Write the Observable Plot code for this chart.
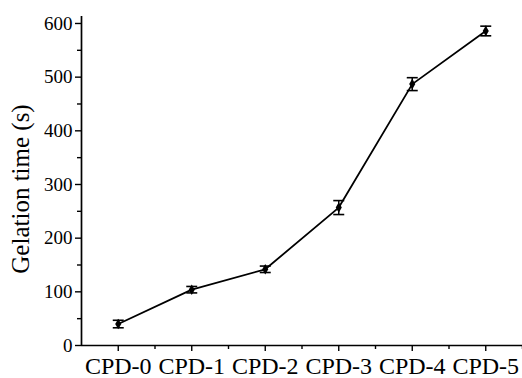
<!DOCTYPE html>
<html>
<head>
<meta charset="utf-8">
<script src="https://cdn.jsdelivr.net/npm/d3@7"></script>
<script src="https://cdn.jsdelivr.net/npm/@observablehq/plot@0.6"></script>
<style>
  html, body { margin: 0; padding: 0; background: #fff; }
  svg { display: block; }
</style>
</head>
<body>
<div id="chart"></div>
<script>
const categories = ["CPD-0", "CPD-1", "CPD-2", "CPD-3", "CPD-4", "CPD-5"];
const gelationTime = [40, 104, 142, 257, 487, 586];
const errors = [7, 6, 6, 13, 12, 9];
const yTicks = [0, 100, 200, 300, 400, 500, 600];
const yMinorTicks = [50, 150, 250, 350, 450, 550];
const yLabel = "Gelation time (s)";

const data = categories.map((c, i) => ({i, c, v: gelationTime[i], e: errors[i]}));
const xMinor = categories.map((c, i) => i + 0.5);

const capSymbol = {
  draw(ctx, size) {
    const w = Math.sqrt(size);
    ctx.moveTo(-w, 0);
    ctx.lineTo(w, 0);
  }
};

const font = "'Liberation Serif', 'Times New Roman', Times, serif";

const chart = Plot.plot({
  width: 522,
  height: 378,
  marginLeft: 81,
  marginRight: 0,
  marginTop: 16,
  marginBottom: 33,
  style: {fontFamily: font, background: "#fff", color: "#000"},
  x: {type: "linear", domain: [-0.5, 5.5]},
  y: {domain: [0, 613]},
  marks: [
    Plot.ruleX([-0.5], {stroke: "#000", strokeWidth: 1.7}),
    Plot.ruleY([0], {stroke: "#000", strokeWidth: 1.7}),
    Plot.axisY({ticks: yTicks, tickSize: 6, tickPadding: 3, fontSize: 19, fontFamily: font, fill: "#000", label: null, stroke: "#000", strokeWidth: 1.4}),
    Plot.axisY({ticks: yMinorTicks, tickSize: 4, tickFormat: () => "", label: null, strokeWidth: 1.4}),
    Plot.axisX({ticks: categories.map((c, i) => i), tickFormat: i => categories[i], tickSize: 6, tickPadding: 5, fontSize: 24, fontFamily: font, fill: "#000", label: null, strokeWidth: 1.4}),
    Plot.axisX({ticks: xMinor, tickSize: 4, tickFormat: () => "", label: null, strokeWidth: 1.4}),
    Plot.text([yLabel], {frameAnchor: "left", textAnchor: "middle", rotate: -90, dx: -61, dy: 8, fontSize: 25, fontFamily: font, fill: "#000"}),
    Plot.ruleX(data, {x: "i", y1: d => d.v - d.e, y2: d => d.v + d.e, stroke: "#000", strokeWidth: 1.5}),
    Plot.dot(data, {x: "i", y: d => d.v - d.e, symbol: capSymbol, r: 3.1, stroke: "#000", strokeWidth: 1.6, fill: "none"}),
    Plot.dot(data, {x: "i", y: d => d.v + d.e, symbol: capSymbol, r: 3.1, stroke: "#000", strokeWidth: 1.6, fill: "none"}),
    Plot.line(data, {x: "i", y: "v", stroke: "#000", strokeWidth: 1.8}),
    Plot.dot(data, {x: "i", y: "v", symbol: "diamond", r: 3.2, fill: "#000", stroke: "none"})
  ]
});
document.getElementById("chart").appendChild(chart);
</script>
</body>
</html>
